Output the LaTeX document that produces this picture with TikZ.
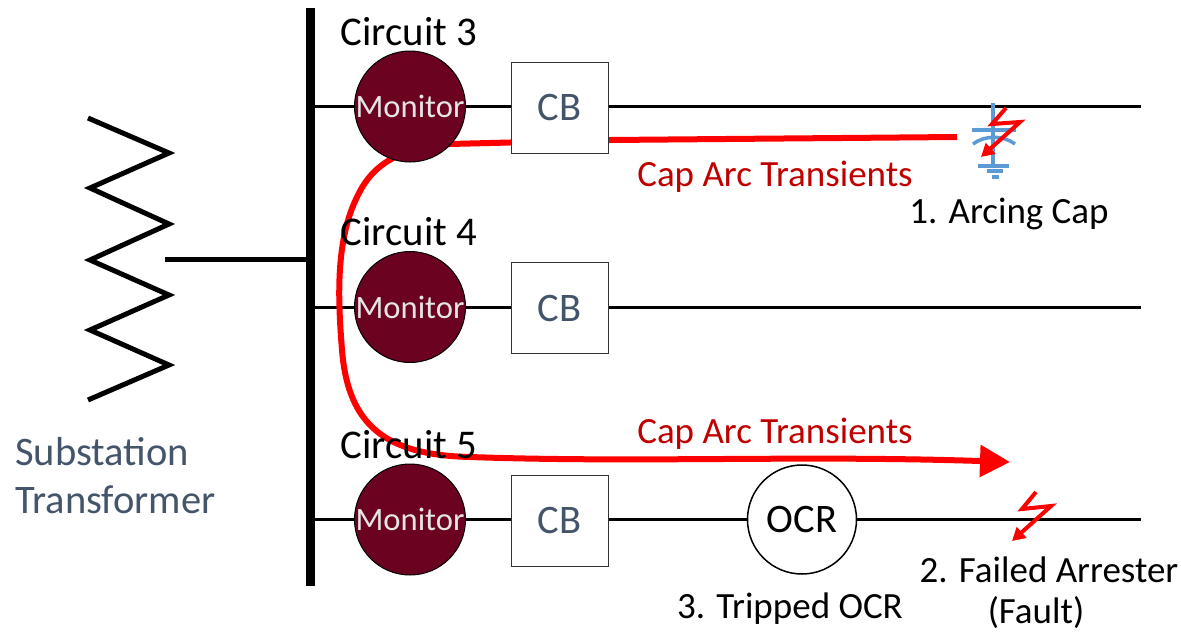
\documentclass[tikz,border=0pt]{standalone}
\usepackage{fontspec}
\usepackage{xcolor}
\setmainfont{Carlito}
\usetikzlibrary{shapes,arrows.meta,positioning,calc,backgrounds}
\definecolor{monitorred}{HTML}{6B0220}
\definecolor{slatetext}{HTML}{44546A}
\definecolor{arcred}{HTML}{C00000}
\definecolor{capblue}{HTML}{5B9BD5}
\tikzset{
    label/.style={font=\fontsize{37}{42}\selectfont, inner sep=0pt},
    cirlabel/.style={font=\fontsize{40.8}{46}\selectfont, inner sep=0pt},
    monitor/.style={circle, draw=black, line width=1pt, fill=monitorred, minimum size=107pt, inner sep=0pt, text=white!90!black, font=\fontsize{32.6}{38}\selectfont},
    cbbox/.style={rectangle, draw=black!80, line width=1pt, fill=white, yshift=-1.2pt, minimum width=97pt, minimum height=91pt, text=slatetext, font=\fontsize{40.5}{46}\selectfont},
    wire/.style={line width=3pt},
    arcline/.style={red, line width=6pt},
    bolt/.style={red, line width=4pt, line join=miter, -{Triangle[length=13pt,width=14pt]}},
    capline/.style={capblue, line width=3.5pt}
}
\begin{document}
\begin{tikzpicture}[x=1pt, y=-1pt]
    \useasboundingbox (0,0) rectangle (1181,632);

    % Bus and transformer
    \coordinate (bustop) at (310,8);
    \coordinate (busbot) at (310,586);
    \coordinate (bustap) at (310,259);
    \coordinate (xfmrtap) at (165,259);
    \draw [line width=9pt] (bustop) -- (busbot);
    \draw [line width=5pt] (xfmrtap) -- (bustap);
    \draw [line width=5pt] (88,118) -- (169,153) -- (90,188) -- (169,224) -- (90,260) -- (169,295) -- (90,330) -- (169,365) -- (88,400);
    \node [label, text=slatetext, align=left, anchor=west, font=\fontsize{40.5}{48}\selectfont] (subst) at (15,476) {Substation\\Transformer};

    % Circuits
    \foreach \n/\yw/\yl in {3/106.5/32, 4/307/232, 5/519.5/445} {
        \node [monitor] (mon\n) at (410,\yw) {Monitor};
        \node [cbbox] (cb\n) at (559.5,\yw) {CB};
        \node [cirlabel] (cir\n) at (409,\yl) {Circuit \n};
        \coordinate (busw\n) at (310,\yw);
        \coordinate (end\n) at (1141,\yw);
    }
    \node [circle, draw=black, line width=1.5pt, fill=white, minimum size=109pt, inner sep=0pt, font=\fontsize{40.5}{46}\selectfont] (ocr) at (802,519.5) {OCR};

    % Red transient path, behind the boxes
    \coordinate (capstart) at (957,137);
    \coordinate (arcend) at (1010,462);
    \begin{scope}[on background layer]
        \foreach \n in {3,4} {
            \draw [wire] (busw\n) -- (mon\n) -- (cb\n.west |- mon\n);
            \draw [wire] (cb\n.east |- mon\n) -- (end\n);
        }
        \draw [wire] (busw5) -- (mon5) -- (cb5.west |- mon5);
        \draw [wire] (cb5.east |- mon5) -- (ocr) -- (end5);
        \draw [arcline, -{Triangle[length=30pt,width=31pt]}] (capstart) -- (610,140) -- (450,144)
            .. controls (405,148) and (375,160) .. (358,195)
            .. controls (335,240) and (338,300) .. (342,350)
            .. controls (348,425) and (385,455) .. (470,457)
            .. controls (640,463) and (800,455) .. (arcend);
    \end{scope}

    % Labels
    \node [label, text=arcred] (arc1) at (775,177) {Cap Arc Transients};
    \node [label, text=arcred] (arc2) at (775,434) {Cap Arc Transients};
    \node [label] (fail1) at (1009,214) {1. Arcing Cap};
    \node [label] (fail2) at (1049,570) {2. Failed Arrester};
    \node [label] (fail2b) at (1036,613) {(Fault)};
    \node [label] (fail3) at (790,609) {3. Tripped OCR};

    % Capacitor symbol
    \draw [capline] (993,103) -- (993,166);
    \draw [capline] (972,130) -- (1016,130);
    \draw [capline] (973,144) .. controls (985,135) and (1003,135) .. (1015,144);
    \draw [capline] (978,166) -- (1009,166);
    \draw [capline] (987,171) -- (1003,171);
    \draw [capline] (992,177) -- (999,177);

    % Faults
    \draw [bolt] (1006,108) -- (992,124) -- (1020,122) -- (981,157);
    \draw [bolt] (1036,492) -- (1022,509) -- (1051,506) -- (1012,541);
\end{tikzpicture}
\end{document}
